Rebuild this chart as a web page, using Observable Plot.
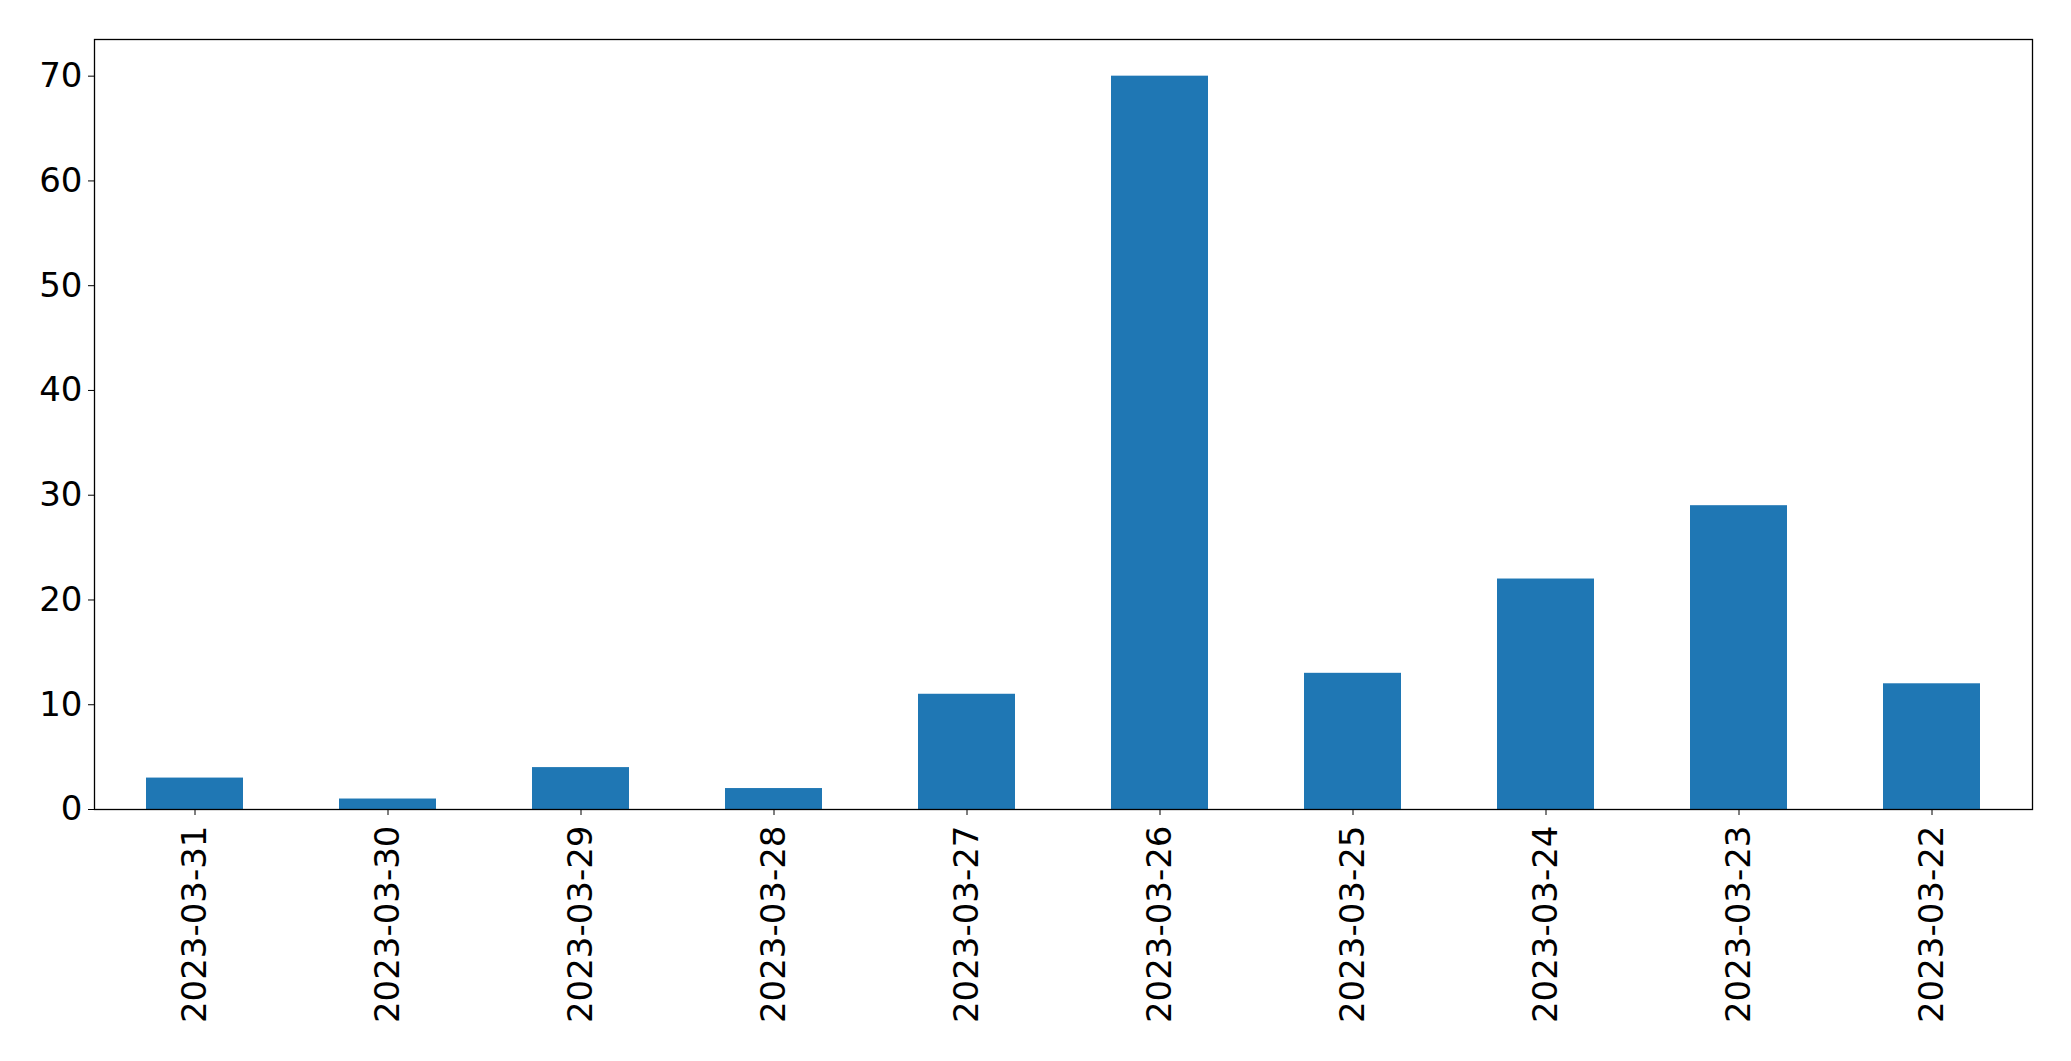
<!DOCTYPE html>
<html>
<head>
<meta charset="utf-8">
<script src="https://cdn.jsdelivr.net/npm/d3@7"></script>
<script src="https://cdn.jsdelivr.net/npm/@observablehq/plot@0.6"></script>
<style>
  html, body { margin: 0; padding: 0; background: #fff; }
  #chart svg { display: block; }
</style>
</head>
<body>
<div id="chart"></div>
<script>
const dates = ["2023-03-31","2023-03-30","2023-03-29","2023-03-28","2023-03-27","2023-03-26","2023-03-25","2023-03-24","2023-03-23","2023-03-22"];
const counts = [3, 1, 4, 2, 11, 70, 13, 22, 29, 12];
const yTicks = [0, 10, 20, 30, 40, 50, 60, 70];

const data = dates.map((d, i) => ({date: d, count: counts[i]}));

const chart = Plot.plot({
  width: 2071,
  height: 1061,
  marginLeft: 94,
  marginRight: 39,
  marginTop: 39,
  marginBottom: 252,
  style: {fontFamily: "DejaVu Sans", fontSize: "34px", color: "#000", background: "#fff"},
  x: {domain: dates, paddingInner: 0.5, paddingOuter: 0.25, label: null},
  y: {domain: [0, 73.5], label: null},
  marks: [
    Plot.barY(data, {x: "date", y: "count", fill: "#1f77b4"}),
    Plot.axisY({ticks: yTicks, tickSize: 6, tickPadding: 6, label: null, stroke: "#000", fontSize: 34}),
    Plot.axisX({tickSize: 6, tickPadding: 10, tickRotate: -90, label: null, stroke: "#000", fontSize: 34}),
    Plot.frame({stroke: "#000", strokeWidth: 1.3})
  ]
});
document.getElementById("chart").appendChild(chart);
</script>
</body>
</html>
